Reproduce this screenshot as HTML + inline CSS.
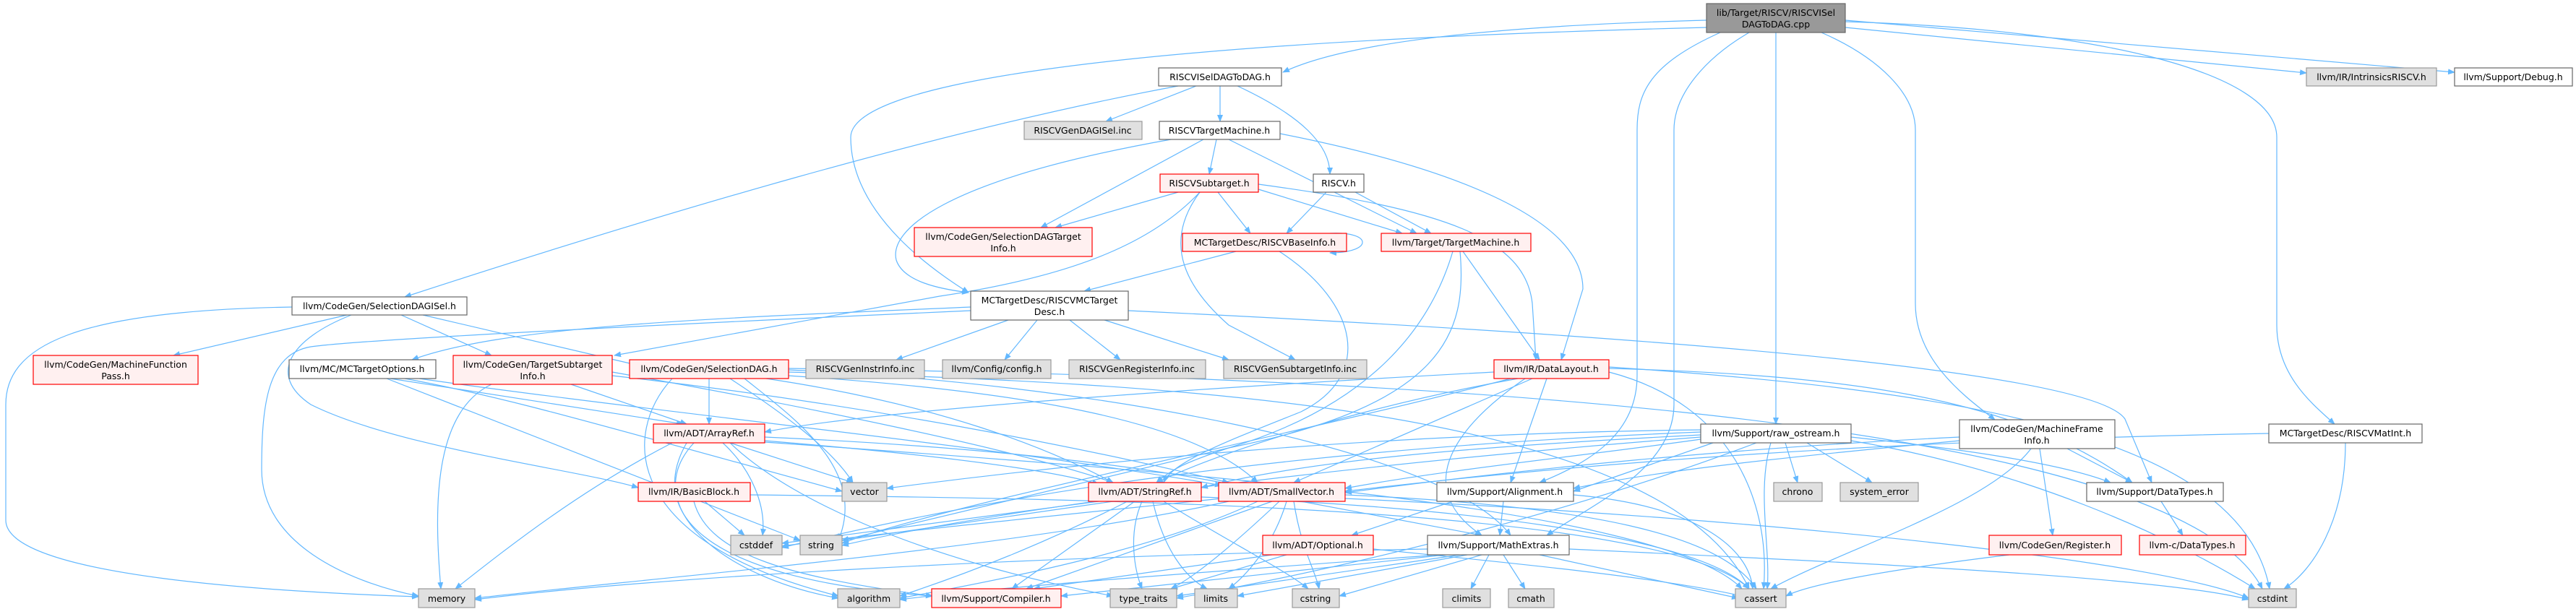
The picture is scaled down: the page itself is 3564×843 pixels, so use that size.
<!DOCTYPE html>
<html><head><meta charset="utf-8"><style>
html,body{margin:0;padding:0;background:#fff;}
svg{display:block;}
text{font-family:"DejaVu Sans","Liberation Sans",sans-serif;font-size:12.5px;fill:#000;text-anchor:middle;}
.e{fill:none;stroke:#63b8ff;stroke-width:1.2;marker-end:url(#a);}
.w{fill:#fff;stroke:#666;stroke-width:1.2;}
.r{fill:#fff0f0;stroke:#f00;stroke-width:1.2;}
.g{fill:#e0e0e0;stroke:#999;stroke-width:1.2;}
.k{fill:#999;stroke:#666;stroke-width:1.2;}
</style></head><body>
<svg width="3564" height="843" viewBox="0 0 3564 843" xmlns="http://www.w3.org/2000/svg">
<defs><marker id="a" markerWidth="10" markerHeight="8" refX="9" refY="4" orient="auto" markerUnits="userSpaceOnUse"><path d="M0,0 L10,4 L0,8 z" fill="#63b8ff"/></marker></defs>
<g>
<path class="e" d="M2361,28 Q1900,40 1775,100"/>
<path class="e" d="M2361,38 C1500,60 1177,120 1177,190 C1177,300 1300,380 1340,405"/>
<path class="e" d="M2457,45 L2457,587"/>
<path class="e" d="M2380,45 C2280,90 2265,130 2265,180 L2265,520 C2265,600 2200,640 2130,668"/>
<path class="e" d="M2420,45 C2360,80 2316,130 2316,180 L2316,560 C2316,650 2200,700 2140,741"/>
<path class="e" d="M2520,45 C2600,80 2650,130 2650,180 L2650,420 C2650,500 2720,550 2760,581"/>
<path class="e" d="M2553,30 C2900,40 3150,100 3150,190 L3150,450 C3150,520 3200,560 3230,587"/>
<path class="e" d="M2553,38 L3191,101"/>
<path class="e" d="M2553,28 L3396,100"/>
<path class="e" d="M1655,119 L1530,168"/>
<path class="e" d="M1688,119 L1688,168"/>
<path class="e" d="M1712,119 C1800,160 1840,200 1840,241"/>
<path class="e" d="M1630,119 C1300,180 900,300 560,411"/>
<path class="e" d="M1683,193 L1673,241"/>
<path class="e" d="M1620,193 C1300,250 1230,320 1240,360 C1250,390 1300,400 1340,405"/>
<path class="e" d="M1665,193 L1440,315"/>
<path class="e" d="M1700,193 L1960,323"/>
<path class="e" d="M1771,185 C2000,230 2190,300 2190,400 L2160,498"/>
<path class="e" d="M1630,266 L1460,315"/>
<path class="e" d="M1685,266 L1730,323"/>
<path class="e" d="M1741,262 L1940,323"/>
<path class="e" d="M1660,266 C1620,320 1620,380 1700,450 L1792,498"/>
<path class="e" d="M1741,255 C2000,290 2110,330 2120,420 L2125,498"/>
<path class="e" d="M1660,266 C1600,330 1500,380 1300,410 L850,492"/>
<path class="e" d="M1835,266 L1780,323"/>
<path class="e" d="M1875,266 L1980,323"/>
<path class="e" d="M1710,348 L1500,403"/>
<path class="e" d="M1840,323 C1900,320 1900,350 1840,350"/>
<path class="e" d="M1770,348 C1880,420 1900,520 1800,570 C1700,610 1620,640 1610,668"/>
<path class="e" d="M2024,348 L2130,498"/>
<path class="e" d="M2010,348 C1980,450 1900,560 1700,620 C1640,640 1620,650 1600,668"/>
<path class="e" d="M2020,348 C2030,460 2000,560 1700,620 L1165,748"/>
<path class="e" d="M1395,443 L1240,498"/>
<path class="e" d="M1435,443 L1390,498"/>
<path class="e" d="M1480,443 L1550,498"/>
<path class="e" d="M1528,443 L1700,498"/>
<path class="e" d="M1343,430 C900,450 500,470 430,480 C370,490 362,560 362,650 C362,760 500,810 579,825"/>
<path class="e" d="M1343,425 C1000,440 700,450 570,498"/>
<path class="e" d="M1561,430 C2400,470 2900,520 2940,580 L2977,668"/>
<path class="e" d="M404,425 C100,430 8,480 8,560 L8,720 C8,800 400,820 579,826"/>
<path class="e" d="M480,436 L240,492"/>
<path class="e" d="M555,436 L680,492"/>
<path class="e" d="M585,436 L880,505"/>
<path class="e" d="M486,436 C400,470 370,520 430,560 C550,620 800,650 883,675"/>
<path class="e" d="M540,524 L945,587"/>
<path class="e" d="M560,524 C700,550 800,580 1165,680"/>
<path class="e" d="M535,524 L1107,748"/>
<path class="e" d="M580,524 C900,570 1400,620 1690,672"/>
<path class="e" d="M680,532 C600,570 600,700 610,815"/>
<path class="e" d="M790,532 L950,587"/>
<path class="e" d="M847,520 C1200,560 1500,620 1700,668"/>
<path class="e" d="M847,515 C1100,560 1400,620 1540,668"/>
<path class="e" d="M981,524 L981,587"/>
<path class="e" d="M1010,524 C1080,570 1150,620 1180,668"/>
<path class="e" d="M1030,524 C1100,580 1200,650 1160,748"/>
<path class="e" d="M1060,524 C1300,560 1450,620 1540,668"/>
<path class="e" d="M1090,520 C1400,540 1650,580 1740,668"/>
<path class="e" d="M930,524 C860,600 860,750 1160,825"/>
<path class="e" d="M1090,515 C1600,530 2300,560 2420,815"/>
<path class="e" d="M1091,512 C1500,530 2000,620 2090,741"/>
<path class="e" d="M1091,510 C1800,520 3000,560 3130,815"/>
<path class="e" d="M2067,515 C1600,540 1200,570 1058,598"/>
<path class="e" d="M2100,524 C1900,560 1700,620 1600,668"/>
<path class="e" d="M2120,524 L1790,668"/>
<path class="e" d="M2140,524 L2090,668"/>
<path class="e" d="M2110,524 C2000,600 1960,680 2050,741"/>
<path class="e" d="M2226,515 C2400,560 2450,700 2440,815"/>
<path class="e" d="M2226,508 C2700,540 3100,600 3140,815"/>
<path class="e" d="M2090,524 C1800,600 1300,700 1165,752"/>
<path class="e" d="M2226,510 C2600,520 2800,560 2950,668"/>
<path class="e" d="M1010,613 L1180,668"/>
<path class="e" d="M1000,613 C1040,650 1060,700 1055,741"/>
<path class="e" d="M930,613 C800,680 700,760 630,815"/>
<path class="e" d="M1058,605 C1400,620 1600,650 1700,670"/>
<path class="e" d="M1058,610 C1300,630 1450,650 1520,670"/>
<path class="e" d="M950,613 C900,700 950,800 1290,825"/>
<path class="e" d="M960,613 C880,700 1000,800 1160,828"/>
<path class="e" d="M1010,613 C1100,700 1300,780 1540,825"/>
<path class="e" d="M1058,612 C1600,650 2300,700 2410,815"/>
<path class="e" d="M975,694 L1030,741"/>
<path class="e" d="M960,694 C980,770 1100,800 1290,825"/>
<path class="e" d="M1038,685 C1500,690 2300,700 2420,815"/>
<path class="e" d="M1540,694 L1165,748"/>
<path class="e" d="M1520,694 L1082,752"/>
<path class="e" d="M1560,694 C1450,750 1350,790 1245,825"/>
<path class="e" d="M1570,694 L1400,815"/>
<path class="e" d="M1580,694 C1560,740 1570,790 1580,815"/>
<path class="e" d="M1595,694 C1610,760 1640,800 1670,815"/>
<path class="e" d="M1610,694 C1700,750 1780,790 1810,815"/>
<path class="e" d="M1662,688 C2000,700 2350,740 2420,815"/>
<path class="e" d="M1760,694 L1420,815"/>
<path class="e" d="M1800,694 L2050,741"/>
<path class="e" d="M1740,694 C1600,760 1400,800 1245,828"/>
<path class="e" d="M1700,694 C1400,760 900,800 657,828"/>
<path class="e" d="M1690,690 C1400,720 1200,740 1082,756"/>
<path class="e" d="M1770,694 C1700,760 1650,800 1620,815"/>
<path class="e" d="M1780,694 C1760,760 1720,800 1700,815"/>
<path class="e" d="M1790,694 C1800,760 1820,790 1825,815"/>
<path class="e" d="M1861,685 C2200,700 2380,740 2430,815"/>
<path class="e" d="M1861,690 C2500,720 3000,780 3111,828"/>
<path class="e" d="M1760,768 L1430,815"/>
<path class="e" d="M1780,768 L1620,815"/>
<path class="e" d="M1900,760 C2100,780 2300,800 2410,825"/>
<path class="e" d="M2080,694 L2075,741"/>
<path class="e" d="M2010,694 L1870,741"/>
<path class="e" d="M2177,685 C2350,700 2420,760 2425,815"/>
<path class="e" d="M2000,768 L1468,825"/>
<path class="e" d="M2060,768 L2035,815"/>
<path class="e" d="M2080,768 L2110,815"/>
<path class="e" d="M2130,768 L2405,828"/>
<path class="e" d="M2171,760 C2600,780 3000,800 3111,830"/>
<path class="e" d="M1990,768 C1700,790 1400,810 1245,830"/>
<path class="e" d="M2020,768 L1628,825"/>
<path class="e" d="M2030,768 L1712,825"/>
<path class="e" d="M2050,768 L1853,825"/>
<path class="e" d="M1975,760 C1400,770 900,800 657,830"/>
<path class="e" d="M2470,613 L2487,668"/>
<path class="e" d="M2500,613 L2590,668"/>
<path class="e" d="M2561,605 C2700,620 2850,640 2920,668"/>
<path class="e" d="M2353,602 C2000,620 1800,640 1662,675"/>
<path class="e" d="M2353,608 C2200,630 2000,650 1861,676"/>
<path class="e" d="M2353,605 C1900,640 1400,700 1165,755"/>
<path class="e" d="M2450,613 C2430,680 2450,760 2445,815"/>
<path class="e" d="M2561,610 C2800,650 3000,740 3120,815"/>
<path class="e" d="M2430,613 C2200,700 1900,780 1628,828"/>
<path class="e" d="M2353,598 C1800,620 1400,680 1082,758"/>
<path class="e" d="M2353,595 C1900,600 1500,640 1227,676"/>
<path class="e" d="M2370,613 L2177,680"/>
<path class="e" d="M2711,605 C2400,620 2100,650 1861,682"/>
<path class="e" d="M2860,621 L2950,668"/>
<path class="e" d="M2822,621 L2840,741"/>
<path class="e" d="M2810,621 C2750,700 2550,760 2450,815"/>
<path class="e" d="M2711,610 C2500,630 2300,650 2177,676"/>
<path class="e" d="M3139,600 C2600,610 2200,640 1861,680"/>
<path class="e" d="M3245,613 C3245,720 3200,790 3160,815"/>
<path class="e" d="M2990,694 L3020,741"/>
<path class="e" d="M2780,768 C2600,790 2500,810 2471,825"/>
</g>
<g>
<rect class="k" x="2361" y="5" width="192" height="40"/><text x="2457" y="22">lib/Target/RISCV/RISCVISel</text><text x="2457" y="38">DAGToDAG.cpp</text>
<rect class="w" x="1603" y="94" width="170" height="25"/><text x="1688" y="111">RISCVISelDAGToDAG.h</text>
<rect class="g" x="1417" y="168" width="163" height="25"/><text x="1498" y="185">RISCVGenDAGISel.inc</text>
<rect class="w" x="1604" y="168" width="167" height="25"/><text x="1687" y="185">RISCVTargetMachine.h</text>
<rect class="r" x="1605" y="241" width="136" height="25"/><text x="1673" y="258">RISCVSubtarget.h</text>
<rect class="w" x="1817" y="241" width="70" height="25"/><text x="1852" y="258">RISCV.h</text>
<rect class="r" x="1265" y="315" width="246" height="40"/><text x="1388" y="332">llvm/CodeGen/SelectionDAGTarget</text><text x="1388" y="348">Info.h</text>
<rect class="r" x="1636" y="323" width="227" height="25"/><text x="1750" y="340">MCTargetDesc/RISCVBaseInfo.h</text>
<rect class="r" x="1911" y="323" width="207" height="25"/><text x="2014" y="340">llvm/Target/TargetMachine.h</text>
<rect class="w" x="404" y="411" width="242" height="25"/><text x="525" y="428">llvm/CodeGen/SelectionDAGISel.h</text>
<rect class="w" x="1343" y="403" width="218" height="40"/><text x="1452" y="420">MCTargetDesc/RISCVMCTarget</text><text x="1452" y="436">Desc.h</text>
<rect class="r" x="46" y="492" width="228" height="40"/><text x="160" y="509">llvm/CodeGen/MachineFunction</text><text x="160" y="525">Pass.h</text>
<rect class="w" x="400" y="498" width="203" height="26"/><text x="501" y="515">llvm/MC/MCTargetOptions.h</text>
<rect class="r" x="627" y="492" width="220" height="40"/><text x="737" y="509">llvm/CodeGen/TargetSubtarget</text><text x="737" y="525">Info.h</text>
<rect class="r" x="871" y="498" width="220" height="26"/><text x="981" y="515">llvm/CodeGen/SelectionDAG.h</text>
<rect class="g" x="1115" y="498" width="164" height="26"/><text x="1197" y="515">RISCVGenInstrInfo.inc</text>
<rect class="g" x="1304" y="498" width="150" height="26"/><text x="1379" y="515">llvm/Config/config.h</text>
<rect class="g" x="1479" y="498" width="189" height="26"/><text x="1573" y="515">RISCVGenRegisterInfo.inc</text>
<rect class="g" x="1693" y="498" width="198" height="26"/><text x="1792" y="515">RISCVGenSubtargetInfo.inc</text>
<rect class="r" x="2067" y="498" width="159" height="26"/><text x="2146" y="515">llvm/IR/DataLayout.h</text>
<rect class="r" x="904" y="587" width="154" height="26"/><text x="981" y="604">llvm/ADT/ArrayRef.h</text>
<rect class="w" x="2353" y="587" width="208" height="26"/><text x="2457" y="604">llvm/Support/raw_ostream.h</text>
<rect class="w" x="2711" y="581" width="215" height="40"/><text x="2818" y="598">llvm/CodeGen/MachineFrame</text><text x="2818" y="614">Info.h</text>
<rect class="w" x="3139" y="587" width="212" height="26"/><text x="3245" y="604">MCTargetDesc/RISCVMatInt.h</text>
<rect class="r" x="883" y="668" width="155" height="26"/><text x="960" y="685">llvm/IR/BasicBlock.h</text>
<rect class="g" x="1165" y="668" width="62" height="26"/><text x="1196" y="685">vector</text>
<rect class="r" x="1506" y="668" width="156" height="26"/><text x="1584" y="685">llvm/ADT/StringRef.h</text>
<rect class="r" x="1686" y="668" width="175" height="26"/><text x="1773" y="685">llvm/ADT/SmallVector.h</text>
<rect class="w" x="1988" y="668" width="189" height="26"/><text x="2082" y="685">llvm/Support/Alignment.h</text>
<rect class="g" x="2454" y="668" width="67" height="26"/><text x="2487" y="685">chrono</text>
<rect class="g" x="2546" y="668" width="108" height="26"/><text x="2600" y="685">system_error</text>
<rect class="w" x="2887" y="668" width="189" height="26"/><text x="2981" y="685">llvm/Support/DataTypes.h</text>
<rect class="g" x="1011" y="741" width="71" height="27"/><text x="1046" y="759">cstddef</text>
<rect class="g" x="1107" y="741" width="58" height="27"/><text x="1136" y="759">string</text>
<rect class="r" x="1747" y="741" width="153" height="27"/><text x="1823" y="759">llvm/ADT/Optional.h</text>
<rect class="w" x="1975" y="741" width="196" height="27"/><text x="2073" y="759">llvm/Support/MathExtras.h</text>
<rect class="r" x="2752" y="741" width="183" height="27"/><text x="2843" y="759">llvm/CodeGen/Register.h</text>
<rect class="r" x="2960" y="741" width="147" height="27"/><text x="3033" y="759">llvm-c/DataTypes.h</text>
<rect class="g" x="579" y="815" width="78" height="26"/><text x="618" y="833">memory</text>
<rect class="g" x="1159" y="815" width="86" height="26"/><text x="1202" y="833">algorithm</text>
<rect class="r" x="1289" y="815" width="179" height="26"/><text x="1378" y="833">llvm/Support/Compiler.h</text>
<rect class="g" x="1536" y="815" width="92" height="26"/><text x="1582" y="833">type_traits</text>
<rect class="g" x="1653" y="815" width="59" height="26"/><text x="1682" y="833">limits</text>
<rect class="g" x="1788" y="815" width="65" height="26"/><text x="1820" y="833">cstring</text>
<rect class="g" x="1996" y="815" width="66" height="26"/><text x="2029" y="833">climits</text>
<rect class="g" x="2087" y="815" width="63" height="26"/><text x="2118" y="833">cmath</text>
<rect class="g" x="2401" y="815" width="70" height="26"/><text x="2436" y="833">cassert</text>
<rect class="g" x="3111" y="815" width="66" height="26"/><text x="3144" y="833">cstdint</text>
<rect class="g" x="3191" y="94" width="180" height="25"/><text x="3281" y="111">llvm/IR/IntrinsicsRISCV.h</text>
<rect class="w" x="3396" y="94" width="163" height="25"/><text x="3477" y="111">llvm/Support/Debug.h</text>
</g>
</svg>
</body></html>
